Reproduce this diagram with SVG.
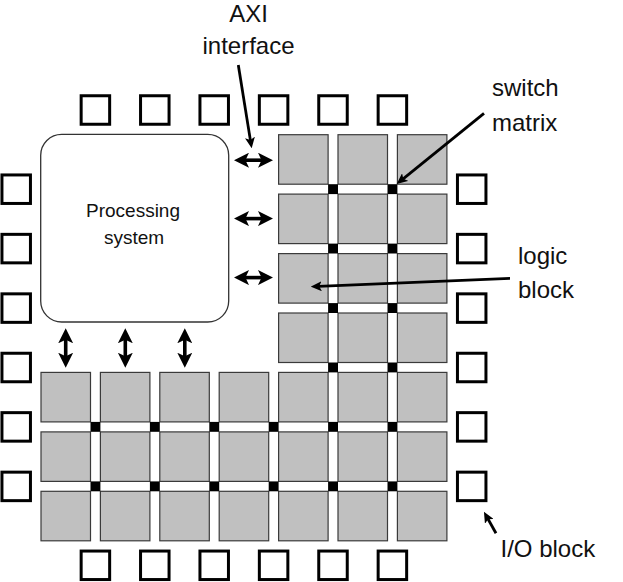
<svg xmlns="http://www.w3.org/2000/svg" width="623" height="582" viewBox="0 0 623 582">
<style>
.lb{fill:#c0c0c0;stroke:#3a3a3a;stroke-width:1.2}
.sw{fill:#000}
.io{fill:#fff;stroke:#000;stroke-width:3}
.ps{fill:#fff;stroke:#333;stroke-width:1.3}
.t{font-family:"Liberation Sans",Arial,sans-serif;fill:#111}
.big{font-size:24px}
.sm{font-size:19px}
.dbl{stroke:#000;stroke-width:3.6;fill:none;marker-start:url(#dh);marker-end:url(#dh)}
.ptr{stroke:#000;stroke-width:2.8;fill:none;marker-end:url(#ph)}
</style>
<defs>
<marker id="dh" viewBox="0 0 15 15" refX="5" refY="7.5" markerWidth="15" markerHeight="15" markerUnits="userSpaceOnUse" orient="auto-start-reverse">
<path d="M0,0 L15,7.5 L0,15 L3.5,7.5 z" fill="#000"/>
</marker>
<marker id="ph" viewBox="0 0 11 10" refX="3.5" refY="5" markerWidth="11" markerHeight="10" markerUnits="userSpaceOnUse" orient="auto">
<path d="M0,0 L11,5 L0,10 L2.5,5 z" fill="#000"/>
</marker>
</defs>
<rect width="623" height="582" fill="#fff"/>

<g id="processing-system">
<rect class="ps" x="40.7" y="134.3" width="188" height="187.7" rx="21" ry="21"/>
<text class="t sm" x="133" y="216.7" text-anchor="middle">Processing</text>
<text class="t sm" x="134" y="244.3" text-anchor="middle">system</text>
</g>

<g id="logic-blocks">
<rect class="lb" x="278.6" y="134.7" width="49.5" height="49.5"/>
<rect class="lb" x="338" y="134.7" width="49.5" height="49.5"/>
<rect class="lb" x="397.4" y="134.7" width="49.5" height="49.5"/>
<rect class="lb" x="278.6" y="194.1" width="49.5" height="49.5"/>
<rect class="lb" x="338" y="194.1" width="49.5" height="49.5"/>
<rect class="lb" x="397.4" y="194.1" width="49.5" height="49.5"/>
<rect class="lb" x="278.6" y="253.6" width="49.5" height="49.5"/>
<rect class="lb" x="338" y="253.6" width="49.5" height="49.5"/>
<rect class="lb" x="397.4" y="253.6" width="49.5" height="49.5"/>
<rect class="lb" x="278.6" y="313" width="49.5" height="49.5"/>
<rect class="lb" x="338" y="313" width="49.5" height="49.5"/>
<rect class="lb" x="397.4" y="313" width="49.5" height="49.5"/>
<rect class="lb" x="41" y="372.4" width="49.5" height="49.5"/>
<rect class="lb" x="100.4" y="372.4" width="49.5" height="49.5"/>
<rect class="lb" x="159.8" y="372.4" width="49.5" height="49.5"/>
<rect class="lb" x="219.2" y="372.4" width="49.5" height="49.5"/>
<rect class="lb" x="278.6" y="372.4" width="49.5" height="49.5"/>
<rect class="lb" x="338" y="372.4" width="49.5" height="49.5"/>
<rect class="lb" x="397.4" y="372.4" width="49.5" height="49.5"/>
<rect class="lb" x="41" y="431.9" width="49.5" height="49.5"/>
<rect class="lb" x="100.4" y="431.9" width="49.5" height="49.5"/>
<rect class="lb" x="159.8" y="431.9" width="49.5" height="49.5"/>
<rect class="lb" x="219.2" y="431.9" width="49.5" height="49.5"/>
<rect class="lb" x="278.6" y="431.9" width="49.5" height="49.5"/>
<rect class="lb" x="338" y="431.9" width="49.5" height="49.5"/>
<rect class="lb" x="397.4" y="431.9" width="49.5" height="49.5"/>
<rect class="lb" x="41" y="491.3" width="49.5" height="49.5"/>
<rect class="lb" x="100.4" y="491.3" width="49.5" height="49.5"/>
<rect class="lb" x="159.8" y="491.3" width="49.5" height="49.5"/>
<rect class="lb" x="219.2" y="491.3" width="49.5" height="49.5"/>
<rect class="lb" x="278.6" y="491.3" width="49.5" height="49.5"/>
<rect class="lb" x="338" y="491.3" width="49.5" height="49.5"/>
<rect class="lb" x="397.4" y="491.3" width="49.5" height="49.5"/>
</g>

<g id="switch-matrices">
<rect class="sw" x="328.1" y="184.2" width="9.9" height="9.9"/>
<rect class="sw" x="387.5" y="184.2" width="9.9" height="9.9"/>
<rect class="sw" x="328.1" y="243.6" width="9.9" height="9.9"/>
<rect class="sw" x="387.5" y="243.6" width="9.9" height="9.9"/>
<rect class="sw" x="328.1" y="303.1" width="9.9" height="9.9"/>
<rect class="sw" x="387.5" y="303.1" width="9.9" height="9.9"/>
<rect class="sw" x="328.1" y="362.5" width="9.9" height="9.9"/>
<rect class="sw" x="387.5" y="362.5" width="9.9" height="9.9"/>
<rect class="sw" x="90.5" y="421.9" width="9.9" height="9.9"/>
<rect class="sw" x="149.9" y="421.9" width="9.9" height="9.9"/>
<rect class="sw" x="209.3" y="421.9" width="9.9" height="9.9"/>
<rect class="sw" x="268.7" y="421.9" width="9.9" height="9.9"/>
<rect class="sw" x="328.1" y="421.9" width="9.9" height="9.9"/>
<rect class="sw" x="387.5" y="421.9" width="9.9" height="9.9"/>
<rect class="sw" x="90.5" y="481.4" width="9.9" height="9.9"/>
<rect class="sw" x="149.9" y="481.4" width="9.9" height="9.9"/>
<rect class="sw" x="209.3" y="481.4" width="9.9" height="9.9"/>
<rect class="sw" x="268.7" y="481.4" width="9.9" height="9.9"/>
<rect class="sw" x="328.1" y="481.4" width="9.9" height="9.9"/>
<rect class="sw" x="387.5" y="481.4" width="9.9" height="9.9"/>
</g>

<g id="io-blocks">
<rect class="io" x="81.15" y="95.75" width="28.5" height="28.5"/>
<rect class="io" x="140.55" y="95.75" width="28.5" height="28.5"/>
<rect class="io" x="199.95" y="95.75" width="28.5" height="28.5"/>
<rect class="io" x="259.35" y="95.75" width="28.5" height="28.5"/>
<rect class="io" x="318.75" y="95.75" width="28.5" height="28.5"/>
<rect class="io" x="378.15" y="95.75" width="28.5" height="28.5"/>
<rect class="io" x="81.15" y="551.05" width="28.5" height="28.5"/>
<rect class="io" x="140.55" y="551.05" width="28.5" height="28.5"/>
<rect class="io" x="199.95" y="551.05" width="28.5" height="28.5"/>
<rect class="io" x="259.35" y="551.05" width="28.5" height="28.5"/>
<rect class="io" x="318.75" y="551.05" width="28.5" height="28.5"/>
<rect class="io" x="378.15" y="551.05" width="28.5" height="28.5"/>
<rect class="io" x="1.95" y="174.95" width="28.5" height="28.5"/>
<rect class="io" x="1.95" y="234.35" width="28.5" height="28.5"/>
<rect class="io" x="1.95" y="293.85" width="28.5" height="28.5"/>
<rect class="io" x="1.95" y="353.25" width="28.5" height="28.5"/>
<rect class="io" x="1.95" y="412.65" width="28.5" height="28.5"/>
<rect class="io" x="1.95" y="472.15" width="28.5" height="28.5"/>
<rect class="io" x="457.45" y="174.95" width="28.5" height="28.5"/>
<rect class="io" x="457.45" y="234.35" width="28.5" height="28.5"/>
<rect class="io" x="457.45" y="293.85" width="28.5" height="28.5"/>
<rect class="io" x="457.45" y="353.25" width="28.5" height="28.5"/>
<rect class="io" x="457.45" y="412.65" width="28.5" height="28.5"/>
<rect class="io" x="457.45" y="472.15" width="28.5" height="28.5"/>
</g>

<g id="connectors">
<line class="dbl" x1="244" y1="160.2" x2="263" y2="160.2"/>
<line class="dbl" x1="244" y1="218.6" x2="263" y2="218.6"/>
<line class="dbl" x1="244" y1="277.6" x2="263" y2="277.6"/>
<line class="dbl" x1="65.7" y1="338.3" x2="65.7" y2="357.7"/>
<line class="dbl" x1="125.3" y1="338.3" x2="125.3" y2="357.7"/>
<line class="dbl" x1="184.8" y1="338.3" x2="184.8" y2="357.7"/>
<line class="ptr" x1="238.3" y1="65" x2="250.5" y2="140.9"/>
<line class="ptr" x1="484" y1="113.3" x2="402.5" y2="179.3"/>
<line class="ptr" x1="510" y1="278.3" x2="318.2" y2="286.4"/>
<line class="ptr" x1="496" y1="533.3" x2="487.6" y2="518.3"/>
</g>

<g id="labels">
<text class="t big" x="248.5" y="22" text-anchor="middle">AXI</text>
<text class="t big" x="248.5" y="54.3" text-anchor="middle">interface</text>
<text class="t big" x="492" y="96">switch</text>
<text class="t big" x="492" y="131">matrix</text>
<text class="t big" x="518" y="264.3">logic</text>
<text class="t big" x="518" y="298.3">block</text>
<text class="t big" x="500.5" y="557.3">I/O block</text>
</g>
</svg>
